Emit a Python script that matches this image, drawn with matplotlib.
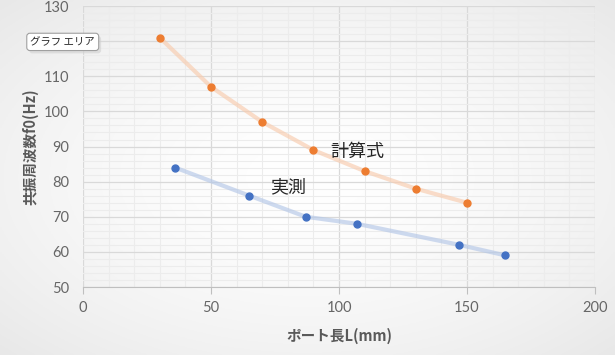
import numpy as np
import matplotlib
matplotlib.use('Agg')
import matplotlib.pyplot as plt
from matplotlib.ticker import MultipleLocator

plt.rcParams['font.family'] = ['Noto Sans CJK JP', 'DejaVu Sans']

# --------------------------------Data----------------------------------------------------------------------------------
calc_x = [30, 50, 70, 90, 110, 130, 150]        # 計算式
calc_y = [121, 107, 97, 89, 83, 78, 74]
meas_x = [36, 65, 87, 107, 147, 165]            # 実測
meas_y = [84, 76, 70, 68, 62, 59]

x_ticks = [0, 50, 100, 150, 200]
y_ticks = [50, 60, 70, 80, 90, 100, 110, 120, 130]

# --------------------------------Figure----------------------------------------------------------------------------------
fig = plt.figure(figsize=(6.15, 3.55), dpi=100)

# radial background gradient (Excel chart area)
bg = fig.add_axes([0, 0, 1, 1], zorder=-10)
gx, gy = np.meshgrid(np.linspace(-1, 1, 300), np.linspace(-1, 1, 200))
r = np.sqrt(gx ** 2 + gy ** 2) / np.sqrt(2)
shade = 1.0 - 0.09 * np.clip(r, 0, 1) ** 1.6
bg.imshow(np.dstack([shade] * 3), aspect='auto', extent=[0, 1, 0, 1])
bg.axis('off')

ax = fig.add_axes([0.135, 0.1915, 0.8325, 0.7915])
ax.patch.set_alpha(0)

ax.plot(calc_x, calc_y, color='#F8CBAD', lw=3, alpha=0.65, solid_capstyle='round', zorder=2)
ax.plot(calc_x, calc_y, 'o', color='#ED7D31', ms=5, zorder=3)
ax.plot(meas_x, meas_y, color='#B4C7E7', lw=3, alpha=0.65, solid_capstyle='round', zorder=2)
ax.plot(meas_x, meas_y, 'o', color='#4472C4', ms=5, zorder=3)

ax.set_xlim(0, 200)
ax.set_ylim(50, 130)
ax.set_xticks(x_ticks)
ax.set_yticks(y_ticks)
ax.xaxis.set_minor_locator(MultipleLocator(10))
ax.yaxis.set_minor_locator(MultipleLocator(2))
ax.grid(which='major', color='#d9d9d9', lw=0.9)
ax.grid(which='minor', color='#ececec', lw=0.8)
ax.set_axisbelow(True)

for s in ['top', 'right', 'left']:
    ax.spines[s].set_visible(False)
ax.spines['bottom'].set_color('#bfbfbf')
ax.tick_params(axis='x', which='major', length=5, color='#bfbfbf', labelcolor='#666666',
               labelsize=10.5, pad=5)
ax.tick_params(axis='x', which='minor', length=0)
ax.tick_params(axis='y', which='both', length=0, labelcolor='#666666', labelsize=10.5, pad=10)
for lbl in ax.get_xticklabels() + ax.get_yticklabels():
    lbl.set_family(['Lato', 'DejaVu Sans'])

ax.set_xlabel('ポート長L(mm)', color='#595959', fontsize=10.5, fontweight='bold', labelpad=9)
ax.set_ylabel('共振周波数f0(Hz)', color='#595959', fontsize=10.5, fontweight='bold', labelpad=4)

ax.text(107, 88.4, '計算式', fontsize=13, color='#262626', ha='center', va='center')
ax.text(80, 78.4, '実測', fontsize=13, color='#262626', ha='center', va='center')

# "グラフ エリア" tooltip with a small shadow
fig.text(0.106, 0.874, 'グラフ エリア', fontsize=7.5, color='#cccccc', ha='center', va='center',
         alpha=0.0,
         bbox=dict(boxstyle='round,pad=0.35,rounding_size=0.3', fc='#d0d0d0', ec='none', alpha=0.6))
fig.text(0.102, 0.882, 'グラフ エリア', fontsize=7.5, color='#262626', ha='center', va='center',
         bbox=dict(boxstyle='round,pad=0.35,rounding_size=0.3', fc='white', ec='#a0a0a0', lw=0.8))

plt.savefig('out.png', dpi=100)
